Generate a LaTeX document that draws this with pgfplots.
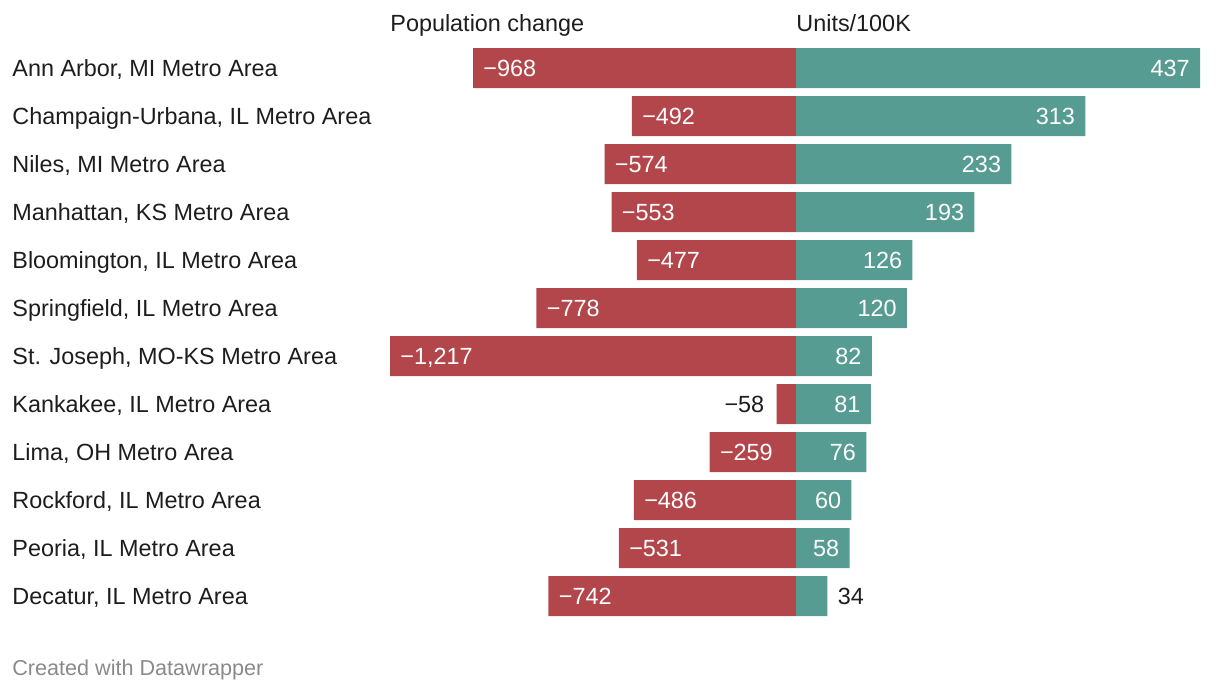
\documentclass[border=0pt]{standalone}
\usepackage{fontspec}
\setmainfont{Liberation Sans}
\usepackage{pgfplots}
\pgfplotsset{compat=1.18}
\usepackage{pgfplotstable}
\definecolor{redbar}{HTML}{B3464B}
\definecolor{tealbar}{HTML}{579C92}
\definecolor{txt}{HTML}{1D1D1D}
\definecolor{foot}{HTML}{8A8A8A}
\newcommand\lf{\fontsize{11.7pt}{14pt}\selectfont}
\tikzset{lbl/.style={font=\lf, inner sep=0pt, text height=0.716em, text depth=0pt, yshift=-0.5pt}}

\pgfplotstableread{
y pop units
0 -968 437
1 -492 313
2 -574 233
3 -553 193
4 -477 126
5 -778 120
6 -1217 82
7 -58 81
8 -259 76
9 -486 60
10 -531 58
11 -742 34
}\data

\begin{document}
\begin{tikzpicture}
\path[use as bounding box] (0,0) rectangle (610pt,346pt);
\begin{axis}[
  at={(195pt,36pt)}, anchor=south west, scale only axis,
  width=203pt, height=288pt,
  xmin=-1217, xmax=0, ymin=-0.5, ymax=11.5, y dir=reverse,
  axis line style={draw=none}, xtick=\empty, major tick length=0pt,
  ytick={0,...,11},
  yticklabels={{Ann Arbor, MI Metro Area},{Champaign-Urbana, IL Metro Area},{Niles, MI Metro Area},{Manhattan, KS Metro Area},{Bloomington, IL Metro Area},{Springfield, IL Metro Area},{St. Joseph, MO-KS Metro Area},{Kankakee, IL Metro Area},{Lima, OH Metro Area},{Rockford, IL Metro Area},{Peoria, IL Metro Area},{Decatur, IL Metro Area}},
  yticklabel style={lbl, anchor=west, xshift=-189pt, text=txt},
  clip=false,
  title={Population change},
  title style={at={(0,1)}, anchor=base west, yshift=0.5pt, inner sep=0pt, font=\lf, text=txt},
]
\addplot[xbar, bar width=20pt, fill=redbar, draw=none] table[x=pop, y=y] {\data};
\addplot[draw=none, mark=none, nodes near coords, point meta=explicit symbolic,
  every node near coord/.style={lbl, anchor=west, xshift=5pt, text=white}]
  table[x=x, y=y, meta=l] {
x y l
-968 0 {−968}
-492 1 {−492}
-574 2 {−574}
-553 3 {−553}
-477 4 {−477}
-778 5 {−778}
-1217 6 {−1,217}
-259 8 {−259}
-486 9 {−486}
-531 10 {−531}
-742 11 {−742}
};
\addplot[draw=none, mark=none, nodes near coords, point meta=explicit symbolic,
  every node near coord/.style={lbl, anchor=east, xshift=-6pt, text=txt}]
  table[x=x, y=y, meta=l] {
x y l
-58 7 {−58}
};
\end{axis}
\begin{axis}[
  at={(398pt,36pt)}, anchor=south west, scale only axis,
  width=202pt, height=288pt,
  xmin=0, xmax=437, ymin=-0.5, ymax=11.5, y dir=reverse,
  axis line style={draw=none}, xtick=\empty, ytick=\empty, major tick length=0pt,
  clip=false,
  title={Units/100K},
  title style={at={(0,1)}, anchor=base west, yshift=0.5pt, inner sep=0pt, font=\lf, text=txt},
]
\addplot[xbar, bar width=20pt, fill=tealbar, draw=none] table[x=units, y=y] {\data};
\addplot[draw=none, mark=none, nodes near coords, point meta=explicit symbolic,
  every node near coord/.style={lbl, anchor=east, xshift=-5pt, text=white}]
  table[x=x, y=y, meta=l] {
x y l
437 0 437
313 1 313
233 2 233
193 3 193
126 4 126
120 5 120
82 6 82
81 7 81
76 8 76
60 9 60
58 10 58
};
\addplot[draw=none, mark=none, nodes near coords, point meta=explicit symbolic,
  every node near coord/.style={lbl, anchor=west, xshift=5pt, text=txt}]
  table[x=x, y=y, meta=l] {
x y l
34 11 34
};
\end{axis}
\node[anchor=west, inner sep=0pt, font=\fontsize{10.8pt}{13pt}\selectfont, text=foot, text height=0.716em, text depth=0pt] at (6pt,12pt) {Created with Datawrapper};
\end{tikzpicture}
\end{document}
